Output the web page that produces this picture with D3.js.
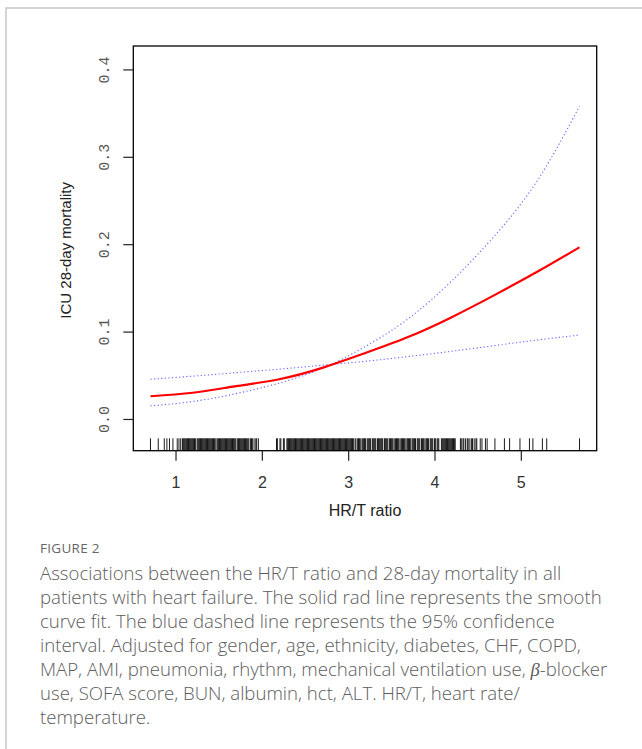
<!DOCTYPE html>
<html>
<head>
<meta charset="utf-8">
<script src="https://cdn.jsdelivr.net/npm/d3@7"></script>
<style>
  html, body { margin: 0; padding: 0; background: #fff; }
  svg { display: block; }
</style>
</head>
<body>
<svg id="chart" width="642" height="749"></svg>
<script>
// ---------- data ----------
const xGrid = [0.71, 1.2, 1.7, 2.2, 2.7, 3.2, 3.7, 4.2, 4.7, 5.2, 5.68];
const fitValues = [0.026, 0.030, 0.0375, 0.0455, 0.0585, 0.0755, 0.094, 0.1165, 0.142, 0.169, 0.1965];
const ciFlatValues = [0.0455, 0.0490, 0.0530, 0.0570, 0.0615, 0.0660, 0.0715, 0.0775, 0.0840, 0.0905, 0.0960];
const ciSteepValues = [0.015, 0.020, 0.029, 0.041, 0.058, 0.083, 0.115, 0.158, 0.210, 0.274, 0.358];

const xTicks = [1, 2, 3, 4, 5];
const yTicks = [0.0, 0.1, 0.2, 0.3, 0.4];
const yTickLabels = ["0.0", "0.1", "0.2", "0.3", "0.4"];

const rugValues = [
  0.71,0.80,0.87,0.90,0.93,0.97,1.02,1.04,1.06,
  1.08,1.09,1.10,1.11,1.12,1.13,1.14,1.15,1.16,1.17,1.18,1.19,1.20,1.21,1.22,1.23,1.25,1.26,1.27,1.28,1.29,1.30,
  1.31,1.32,1.33,1.34,1.35,1.36,1.37,1.38,1.39,1.40,1.41,1.42,1.43,1.44,1.45,1.46,1.48,1.49,1.50,1.51,1.52,1.53,
  1.54,1.55,1.56,1.57,1.58,1.59,1.60,1.61,1.62,1.63,1.64,1.65,1.66,1.67,1.68,1.69,1.70,1.72,1.73,1.74,1.75,1.76,
  1.77,1.78,1.79,1.80,1.81,1.82,1.83,1.84,1.85,1.87,1.88,1.89,1.91,1.93,1.94,1.96,
  2.17,2.18,2.21,2.22,2.25,2.26,2.29,2.30,2.31,2.32,
  2.33,2.34,2.35,2.36,2.37,2.38,2.39,2.40,2.41,2.42,2.43,2.44,2.45,2.46,2.47,2.48,2.49,2.50,2.51,2.52,2.53,2.54,
  2.55,2.56,2.57,2.58,2.59,2.60,2.61,2.62,2.63,2.64,2.65,2.66,2.67,2.68,2.69,2.70,2.71,2.72,2.73,2.74,2.75,2.76,
  2.77,2.78,2.79,2.80,2.81,2.82,2.83,2.84,2.85,2.86,2.87,2.88,2.89,2.90,2.91,2.92,2.93,2.94,2.95,2.96,2.97,2.98,
  2.99,3.00,3.01,3.02,3.03,3.04,3.05,3.06,
  3.08,3.09,3.11,3.12,3.13,3.14,3.16,3.17,3.18,3.19,3.20,3.22,3.23,3.24,3.25,3.26,3.28,3.29,3.30,3.31,3.32,3.34,
  3.35,3.36,3.37,3.38,3.39,3.40,3.42,3.43,3.44,3.45,3.46,3.48,3.49,3.50,3.51,3.52,3.54,3.55,3.56,3.57,3.58,3.59,
  3.61,3.62,3.63,3.64,3.65,3.66,3.68,3.69,3.70,3.71,3.72,3.74,3.75,3.76,3.77,3.78,3.80,3.81,3.82,3.83,3.85,3.86,
  3.87,3.88,3.90,3.91,3.92,3.93,3.95,3.96,3.97,3.98,4.00,4.01,4.03,4.04,4.05,
  4.08,4.09,4.10,4.11,4.12,4.13,4.14,4.15,4.16,4.17,4.18,4.19,4.20,4.21,4.22,4.23,4.24,
  4.30,4.31,4.33,4.34,4.36,4.38,4.39,4.41,4.43,4.44,4.46,4.48,4.49,
  4.53,4.55,4.59,4.61,
  4.70,4.81,4.87,4.99,5.10,5.14,5.25,5.30,5.68
];

const captionTitle = "FIGURE 2";
const captionLines = [
  "Associations between the HR/T ratio and 28-day mortality in all",
  "patients with heart failure. The solid rad line represents the smooth",
  "curve fit. The blue dashed line represents the 95% confidence",
  "interval. Adjusted for gender, age, ethnicity, diabetes, CHF, COPD,",
  ["MAP, AMI, pneumonia, rhythm, mechanical ventilation use, ", "β", "-blocker"],
  "use, SOFA score, BUN, albumin, hct, ALT. HR/T, heart rate/",
  "temperature."
];

// ---------- layout ----------
const svg = d3.select("#chart");
const box = { left: 133.3, right: 596.7, top: 46, bottom: 450.7 };
const sansFont = "'Liberation Sans', Arial, Helvetica, sans-serif";

const x = d3.scaleLinear().domain([0.511, 5.879]).range([box.left, box.right]);
const y = d3.scaleLinear().domain([-0.0363, 0.4268]).range([box.bottom, box.top]);

// outer frame (light gray)
svg.append("path")
  .attr("d", `M6,749 L6,8 L642,8`)
  .attr("fill", "none").attr("stroke", "#c8c8c8").attr("stroke-width", 1.5);

// rug
svg.append("g").selectAll("line").data(rugValues).join("line")
  .attr("x1", d => x(d)).attr("x2", d => x(d))
  .attr("y1", box.bottom).attr("y2", box.bottom - 12.4)
  .attr("stroke", "#000").attr("stroke-width", 0.9);

// lines
const line = d3.line().x((d, i) => x(xGrid[i])).y(d => y(d)).curve(d3.curveNatural);

svg.append("path").datum(ciFlatValues).attr("d", line)
  .attr("fill", "none").attr("stroke", "#3030ff").attr("stroke-width", 1.1)
  .attr("stroke-dasharray", "1.2,2.4").attr("opacity", 0.75);
svg.append("path").datum(ciSteepValues).attr("d", line)
  .attr("fill", "none").attr("stroke", "#3030ff").attr("stroke-width", 1.1)
  .attr("stroke-dasharray", "1.2,2.4").attr("opacity", 0.75);
svg.append("path").datum(fitValues).attr("d", line)
  .attr("fill", "none").attr("stroke", "#ff0000").attr("stroke-width", 2.2);

// box
svg.append("rect")
  .attr("x", box.left).attr("y", box.top)
  .attr("width", box.right - box.left).attr("height", box.bottom - box.top)
  .attr("fill", "none").attr("stroke", "#000").attr("stroke-width", 1.3);

// x axis
const xAxis = d3.axisBottom(x).tickValues(xTicks).tickSize(10).tickSizeOuter(0)
  .tickFormat(d3.format("d"));
const gx = svg.append("g").attr("transform", `translate(0,${box.bottom})`).call(xAxis);
gx.attr("font-family", null);
gx.select(".domain").remove();
gx.selectAll(".tick line").attr("stroke", "#222").attr("stroke-width", 1.2);
gx.selectAll(".tick text")
  .attr("y", 37).attr("dy", null)
  .style("font-family", sansFont)
  .style("font-size", "16px").attr("fill", "#333");

// y axis
const yAxis = d3.axisLeft(y).tickValues(yTicks).tickSize(10).tickSizeOuter(0)
  .tickFormat((d, i) => yTickLabels[i]);
const gy = svg.append("g").attr("transform", `translate(${box.left},0)`).call(yAxis);
gy.attr("font-family", null);
gy.select(".domain").remove();
gy.selectAll(".tick line").attr("stroke", "#222").attr("stroke-width", 1.2);
gy.selectAll(".tick text")
  .attr("x", null).attr("dy", null)
  .attr("text-anchor", "middle")
  .attr("transform", "translate(-24,0) rotate(-90)")
  .style("font-family", "'Liberation Mono', 'DejaVu Sans Mono', monospace")
  .style("font-size", "15px").attr("fill", "#555");

// axis titles
svg.append("text")
  .attr("x", (box.left + box.right) / 2).attr("y", 516)
  .attr("text-anchor", "middle")
  .style("font-family", sansFont).style("font-size", "16px").attr("fill", "#222")
  .text("HR/T ratio");
svg.append("text")
  .attr("transform", `translate(71,${(box.top + box.bottom) / 2 + 2}) rotate(-90)`)
  .attr("text-anchor", "middle")
  .style("font-family", sansFont).style("font-size", "15px").attr("fill", "#222")
  .text("ICU 28-day mortality");

// caption
svg.append("text")
  .attr("x", 40).attr("y", 553)
  .style("font-family", "'Open Sans', 'Noto Sans', sans-serif").style("font-size", "13.5px")
  .attr("fill", "#666").attr("letter-spacing", 0.3)
  .text(captionTitle);

const cap = svg.append("g")
  .style("font-family", "'Open Sans', 'Noto Sans', sans-serif").style("font-size", "18.6px")
  .style("font-weight", 300)
  .attr("fill", "#5c5c5c");
captionLines.forEach((ln, i) => {
  const t = cap.append("text").attr("x", 40).attr("y", 580 + i * 24);
  if (Array.isArray(ln)) {
    t.append("tspan").text(ln[0]);
    t.append("tspan").style("font-family", "'Liberation Serif', serif").style("font-style", "italic")
      .style("font-weight", 400).attr("fill", "#5c5c5c").text(ln[1]);
    t.append("tspan").text(ln[2]);
  } else {
    t.text(ln);
  }
});
</script>
</body>
</html>
